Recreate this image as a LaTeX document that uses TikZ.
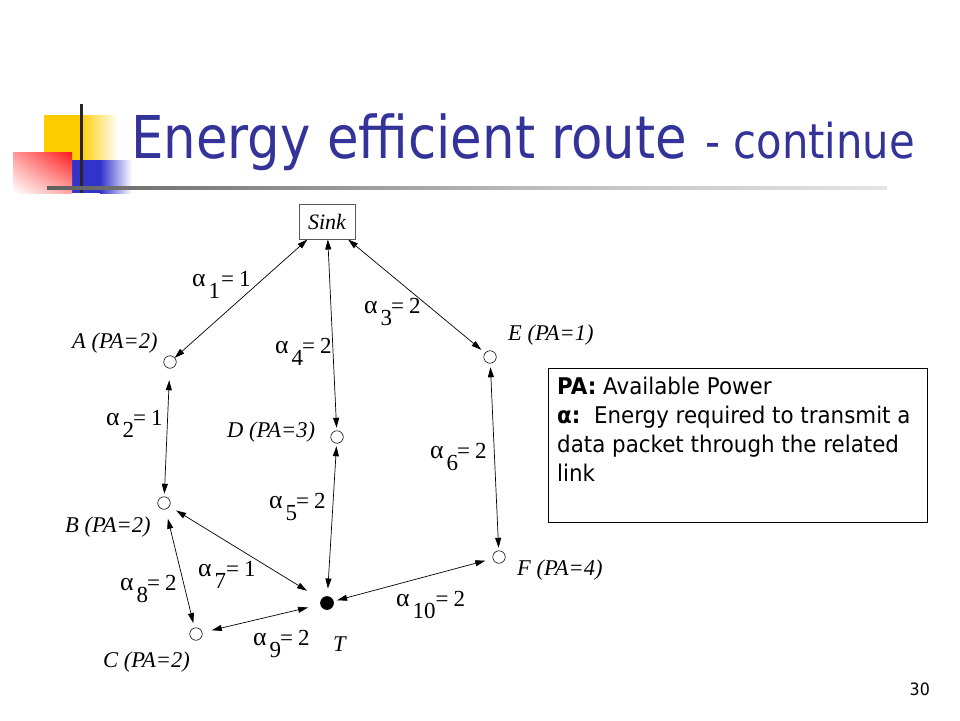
\documentclass[tikz,border=0pt]{standalone}
\usepackage{fontspec}
\setmainfont{Liberation Serif}
\newfontfamily\titlefont[FakeStretch=0.87]{DejaVu Sans}
\newfontfamily\bodyfont[FakeStretch=0.93]{DejaVu Sans}
\usetikzlibrary{arrows.meta,shadings}
\definecolor{titleblue}{HTML}{333399}
\definecolor{logoyellow}{HTML}{FFCC00}
\definecolor{logoblue}{HTML}{3333CC}
\definecolor{logored}{HTML}{FF1A1A}
\pgfdeclarehorizontalshading{ruleshade}{100bp}{color(0bp)=(black!88); color(11bp)=(black!85); color(30bp)=(black!55); color(55bp)=(black!25); color(80bp)=(black!7); color(100bp)=(white)}
\newcommand{\al}[3][-1pt]{\scalebox{1.12}{α}\hspace{3pt}\raisebox{-12pt}{#2}\hspace{#1}=\hspace{5pt}#3}
\begin{document}
\begin{tikzpicture}[x=1pt,y=-1pt,
  dot/.style={draw, circle, minimum size=12.5pt, inner sep=0pt, line width=0.6pt, outer sep=0pt},
  tnode/.style={dot, fill=black, minimum size=13pt},
  sinkbox/.style={draw=black!65, line width=0.8pt, minimum width=56pt, minimum height=35pt, inner sep=0pt, font=\fontsize{22}{22}\selectfont\itshape, outer sep=0pt},
  link/.style={line width=0.7pt, {Triangle[length=10pt,width=6pt]}-{Triangle[length=10pt,width=6pt]}},
  nlab/.style={anchor=base west, inner sep=0pt, font=\fontsize{22.5}{22.5}\selectfont\itshape},
  elab/.style={anchor=base west, inner sep=0pt, font=\fontsize{23}{23}\selectfont},
]
\fill[white] (0,0) rectangle (960,720);
\useasboundingbox (0,0) rectangle (960,720);
% logo
\fill[logoyellow] (44,115) rectangle (80,160);
\shade[left color=logoyellow, right color=white] (80,115) rectangle (118,160);
\fill[logoblue] (72,160) rectangle (100,193);
\shade[left color=logoblue, right color=white] (100,160) rectangle (132,193);
\shade[upper left=logored!45, upper right=logored, lower left=white, lower right=logored!40] (13,152) rectangle (72,193);
\draw[line width=3pt, black!85] (81,104) -- (81,193);
\shade[shading=ruleshade] (47,186.5) rectangle (887,189.5);
% title
\node[anchor=base west, inner sep=0pt, text=titleblue, font=\titlefont\fontsize{59}{59}\selectfont] (title) at (131,158) {Energy efficient route};
\node[anchor=base west, inner sep=0pt, text=titleblue, font=\titlefont\fontsize{48}{48}\selectfont] (title2) at (705,158) {- continue};
% graph nodes
\node[sinkbox] (sink) at (327,222) {Sink};
\node[dot] (A) at (170,362) {};
\node[dot] (B) at (164,503) {};
\node[dot] (C) at (196,634) {};
\node[dot] (D) at (337,437) {};
\node[dot] (E) at (490,357) {};
\node[dot] (F) at (499,557) {};
\node[tnode] (T) at (327,603) {};
% node labels
\node[nlab] (Alab) at (72,348) {A (PA=2)};
\node[nlab] (Blab) at (65,532) {B (PA=2)};
\node[nlab] (Clab) at (103,667) {C (PA=2)};
\node[nlab] (Dlab) at (227,437) {D (PA=3)};
\node[nlab] (Elab) at (508,340) {E (PA=1)};
\node[nlab] (Flab) at (517,575) {F (PA=4)};
\node[nlab] (Tlab) at (333,651) {T};
% links
\draw[link] (sink) -- (A);
\draw[link, shorten <=12pt, shorten >=3pt] (A) -- (B);
\draw[link, shorten >=3pt] (sink) -- (D);
\draw[link, shorten <=3pt, shorten >=8pt] (D) -- (T);
\draw[link, shorten >=5pt] (sink) -- (E);
\draw[link, shorten <=4pt, shorten >=3pt] (E) -- (F);
\draw[link, shorten <=4pt, shorten >=8pt] (T) -- (F);
\draw[link, shorten <=8pt, shorten >=17pt] (B) -- (T);
\draw[link, shorten <=10pt, shorten >=5pt] (B) -- (C);
\draw[link, shorten <=10pt, shorten >=13pt] (C) -- (T);
% link labels
\node[elab] (l1) at (192,286) {\al[1pt]{1}{1}};
\node[elab] (l2) at (106,425) {\al{2}{1}};
\node[elab] (l3) at (364,313) {\al{3}{2}};
\node[elab] (l4) at (275,353) {\al{4}{2}};
\node[elab] (l5) at (269,508) {\al{5}{2}};
\node[elab] (l6) at (430,458) {\al{6}{2}};
\node[elab] (l7) at (198,576) {\al[0pt]{7}{1}};
\node[elab] (l8) at (120,590) {\al{8}{2}};
\node[elab] (l9) at (253,645) {\al{9}{2}};
\node[elab] (l10) at (396,606) {\al[0pt]{10}{2}};
% legend
\node[draw, line width=0.8pt, minimum width=379pt, minimum height=154pt, anchor=north west, inner sep=0pt] (legend) at (548,368) {};
\node[anchor=north west, inner sep=0pt, align=left, font=\bodyfont\fontsize{23}{29}\selectfont] (legtext) at (557,377) {\textbf{PA:} Available Power\\ \textbf{α:}\ \ Energy required to transmit a\\ data packet through the related\\ link};
% page number
\node[anchor=base east, inner sep=0pt, font=\bodyfont\fontsize{17}{17}\selectfont] (pagenum) at (930,695) {30};
\end{tikzpicture}
\end{document}
